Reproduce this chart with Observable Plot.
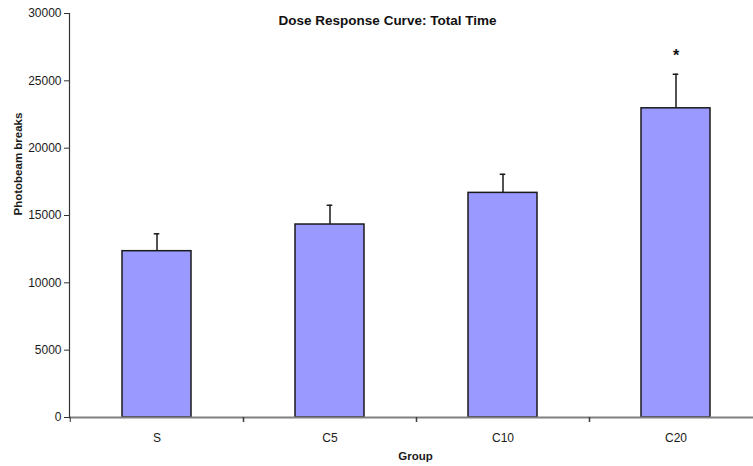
<!DOCTYPE html>
<html>
<head>
<meta charset="utf-8">
<script src="https://cdn.jsdelivr.net/npm/d3@7"></script>
<script src="https://cdn.jsdelivr.net/npm/@observablehq/plot@0.6"></script>
<style>
  html, body { margin: 0; padding: 0; background: #fff; }
  svg { display: block; }
</style>
</head>
<body>
<div id="chart"></div>
<script>
const groups = ["S", "C5", "C10", "C20"];
const means = [12350, 14330, 16680, 22960];
const errors = [1290, 1430, 1380, 2530];
const marks = ["", "", "", "*"];
const yTicks = [0, 5000, 10000, 15000, 20000, 25000, 30000];
const title = "Dose Response Curve: Total Time";
const yLabel = "Photobeam breaks";
const xLabel = "Group";

const data = groups.map((g, i) => ({group: g, mean: means[i], err: errors[i], top: means[i] + errors[i], mark: marks[i]}));

const font = "'Liberation Sans', Arial, Helvetica, sans-serif";
const xRange = [69, 763];
const step = (xRange[1] - xRange[0]) / groups.length;

const chart = Plot.plot({
  width: 753,
  height: 466,
  marginLeft: 69,
  marginRight: 0,
  marginTop: 13,
  marginBottom: 49,
  style: {fontFamily: font, fontSize: "12px", color: "#1a1a1a", background: "#fff"},
  x: {domain: groups, range: xRange, paddingInner: 0.6, paddingOuter: 0.3, label: null},
  y: {domain: [0, 30000], label: null},
  marks: [
    Plot.barY(data, {x: "group", y: "mean", fill: "#9999ff", stroke: "#1a1a1a", strokeWidth: 1.5}),
    Plot.ruleX(data, {x: "group", y1: "mean", y2: "top", stroke: "#1a1a1a", strokeWidth: 1.5}),
    Plot.tickY(data, {x: "group", y: "top", stroke: "#1a1a1a", strokeWidth: 1.5, insetLeft: 31.7, insetRight: 31.7}),
    Plot.text(data, {x: "group", y: "top", text: "mark", dy: -18, fontSize: 16, fontWeight: "bold", fill: "#111"}),
    Plot.ruleY([0], {stroke: "#808080", strokeWidth: 2}),
    Plot.frame({anchor: "left", stroke: "#333", strokeWidth: 1.2}),
    Plot.axisY({ticks: yTicks, tickSize: 5, tickPadding: 3, tickFormat: d => String(d), label: null, stroke: "#333", fontSize: 12}),
    Plot.axisX({tickSize: 0, tickPadding: 16, label: null, fontSize: 12}),
    Plot.axisX({tickSize: 5, tickFormat: () => "", dx: step / 2, label: null, stroke: "#333"}),
    Plot.axisX({tickSize: 5, tickFormat: () => "", dx: -step / 2, label: null, stroke: "#333"}),
    Plot.text([xLabel], {frameAnchor: "bottom", lineAnchor: "top", dy: 34, dx: 4, fontWeight: "bold", fontSize: 11.5, fill: "#1a1a1a"}),
    Plot.text([yLabel], {frameAnchor: "left", rotate: -90, dx: -51, fontWeight: "bold", fontSize: 11.5, fill: "#1a1a1a"}),
    Plot.text([title], {frameAnchor: "top", lineAnchor: "middle", dy: 7, dx: -24, fontWeight: "bold", fontSize: 13.5, fill: "#111"})
  ]
});
document.getElementById("chart").appendChild(chart);
</script>
</body>
</html>
